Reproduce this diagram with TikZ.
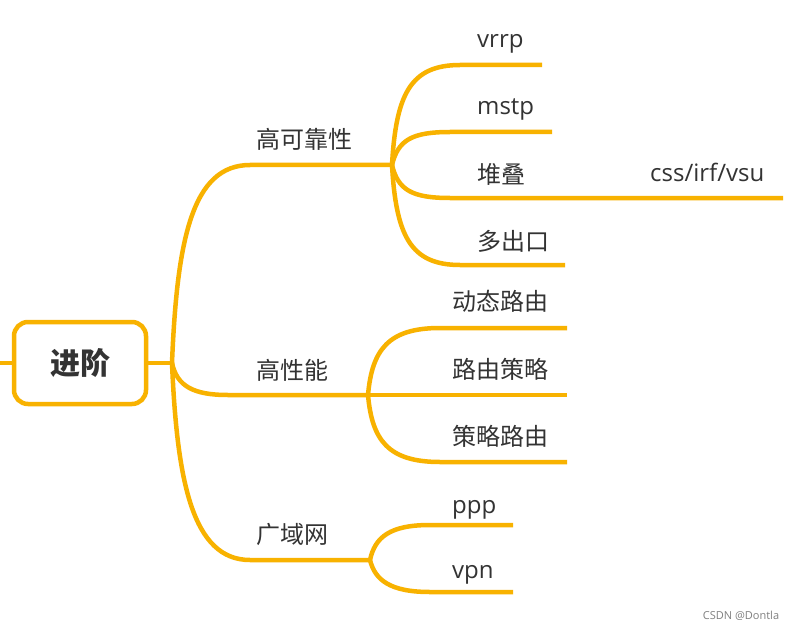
\documentclass[tikz,border=0pt]{standalone}
\usepackage{fontspec}
\setmainfont{Open Sans}
\newfontfamily\cjk{Noto Sans CJK SC}
\definecolor{mapline}{HTML}{F8B200}
\definecolor{maptext}{HTML}{333333}
\tikzset{
  branch/.style={draw=mapline, line width=4.5pt},
  rootbox/.style={draw=mapline, line width=4.5pt, rounded corners=14pt, fill=white,
    minimum width=132pt, minimum height=82pt, text=maptext,
    font=\cjk\bfseries\fontsize{30}{30}\selectfont},
  topic/.style={anchor=base west, inner sep=0pt, text=maptext,
    font=\cjk\fontsize{24}{24}\selectfont},
  leaf/.style={anchor=base west, inner sep=0pt, text=maptext,
    font=\fontsize{24}{24}\selectfont},
}
\begin{document}
\begin{tikzpicture}[x=1pt, y=-1pt]
\useasboundingbox[fill=white] (0,0) rectangle (794,631);

% root
\node[rootbox] (root) at (80,363) {进阶};
\coordinate (edge) at (0,363);
\coordinate (hub) at (172,363);
\draw[branch] (edge) -- (root.west);
\draw[branch] (root.east) -- (hub);

% main topics
\coordinate (rel) at (392,165);
\coordinate (perf) at (368,395);
\coordinate (wan) at (370,560);
\draw[branch] (hub) .. controls (177,240) and (192,165) .. (250,165) -- (rel);
\draw[branch] (hub) .. controls (177,386) and (193,395) .. (228,395) -- (perf);
\draw[branch] (hub) .. controls (177,480) and (192,560) .. (250,560) -- (wan);
\node[topic] (relT) at (256,149) {高可靠性};
\node[topic] (perfT) at (256,379) {高性能};
\node[topic] (wanT) at (256,543) {广域网};

% 高可靠性
\coordinate (vrrpE) at (542,65);
\coordinate (mstpE) at (552,132);
\coordinate (stackE) at (783,198);
\coordinate (exitE) at (565,265);
\draw[branch] (rel) .. controls (396,95) and (410,65) .. (460,65) -- (vrrpE);
\draw[branch] (rel) .. controls (398,140) and (412,132) .. (450,132) -- (mstpE);
\draw[branch] (rel) .. controls (398,190) and (412,198) .. (450,198) -- (stackE);
\draw[branch] (rel) .. controls (396,235) and (410,265) .. (460,265) -- (exitE);
\node[leaf] (vrrp) at (477,48) {vrrp};
\node[leaf] (mstp) at (477,115) {mstp};
\node[topic] (stack) at (477,183) {堆叠};
\node[leaf] (css) at (650,182) {css/irf/vsu};
\node[topic] (exit) at (477,250) {多出口};

% 高性能
\coordinate (dynE) at (567,328);
\coordinate (polE) at (567,395);
\coordinate (pbrE) at (567,462);
\draw[branch] (perf) .. controls (372,350) and (388,328) .. (440,328) -- (dynE);
\draw[branch] (perf) -- (polE);
\draw[branch] (perf) .. controls (372,440) and (388,462) .. (440,462) -- (pbrE);
\node[topic] (dyn) at (452,310) {动态路由};
\node[topic] (pol) at (452,378) {路由策略};
\node[topic] (pbr) at (452,445) {策略路由};

% 广域网
\coordinate (pppE) at (513,525);
\coordinate (vpnE) at (513,592);
\draw[branch] (wan) .. controls (375,537) and (390,525) .. (430,525) -- (pppE);
\draw[branch] (wan) .. controls (375,580) and (390,592) .. (430,592) -- (vpnE);
\node[leaf] (ppp) at (452,513) {ppp};
\node[leaf] (vpn) at (452,578) {vpn};

\node[text=gray, font=\fontsize{11}{11}\selectfont] (mark) at (741,616) {CSDN @Dontla};
\end{tikzpicture}
\end{document}
